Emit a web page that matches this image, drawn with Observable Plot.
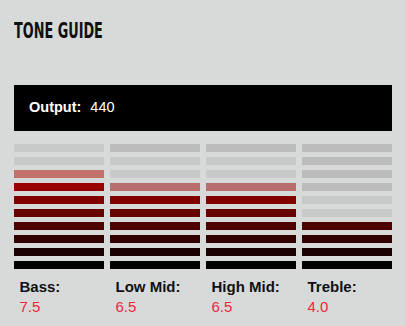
<!DOCTYPE html>
<html>
<head>
<meta charset="utf-8">
<script src="https://cdn.jsdelivr.net/npm/d3@7"></script>
<script src="https://cdn.jsdelivr.net/npm/@observablehq/plot@0.6"></script>
<style>
  html, body { margin: 0; padding: 0; background: #d7dad9; width: 405px; height: 326px; overflow: hidden; }
  #title { position: absolute; left: 14px; top: 21px; font-family: "Liberation Sans Narrow", "DejaVu Sans Condensed", sans-serif; font-weight: bold; font-size: 21px; line-height: 21px; color: #111; white-space: nowrap; transform: scaleX(0.68); transform-origin: 0 0; }
  #out { position: absolute; left: 14px; top: 85px; width: 378px; height: 46px; background: #000; }
  #outtext { position: absolute; left: 15px; top: 15px; font-family: "Liberation Sans", Arial, sans-serif; font-size: 14.5px; line-height: 14.5px; color: #fff; white-space: nowrap; }
  #outtext b { margin-right: 9px; }
  #chart { position: absolute; left: 0; top: 140px; }
</style>
</head>
<body>
<div id="title"></div>
<div id="out"><div id="outtext"></div></div>
<div id="chart"></div>
<script>
// ---- data ----
const titleText = "TONE GUIDE";
const outputLabel = "Output:";
const outputValue = 440;
const bands = ["Bass", "Low Mid", "High Mid", "Treble"];
const bandLevels = [7.5, 6.5, 6.5, 4.0];
const segments = [1, 2, 3, 4, 5, 6, 7, 8, 9, 10];
// number of top (unlit) segments drawn in the darker grey, per band
const dimTop = [0, 1, 1, 4];

// ---- styles ----
const litColors = {1: "#000000", 2: "#1a0000", 3: "#330000", 4: "#4c0000", 5: "#660000", 6: "#800000", 7: "#990000", 8: "#b30000", 9: "#cc0000", 10: "#e60000"};
const halfColors = {7: "#b86e6c", 8: "#c2716d"};
const offLight = "#c8cac9";
const offDark = "#bbbcbb";

document.getElementById("title").textContent = titleText;
document.getElementById("outtext").innerHTML = "<b></b><span></span>";
document.querySelector("#outtext b").textContent = outputLabel;
document.querySelector("#outtext span").textContent = outputValue;

const cells = [];
bands.forEach((b, i) => {
  const v = bandLevels[i];
  segments.forEach(l => {
    let fill;
    if (l <= v) fill = litColors[l];
    else if (l - 1 < v) fill = halfColors[l] || litColors[l];
    else fill = (l > segments.length - dimTop[i]) ? offDark : offLight;
    cells.push({band: b, level: l, fill});
  });
});

const chart = Plot.plot({
  width: 405,
  height: 186,
  marginTop: 4,
  marginBottom: 52,
  marginLeft: 14,
  marginRight: 7,
  style: {background: "transparent", fontFamily: "'Liberation Sans', Arial, sans-serif", overflow: "visible"},
  x: {type: "band", domain: bands, padding: 0, round: false, axis: null},
  y: {type: "band", domain: segments.slice().reverse(), padding: 0, round: false, axis: null},
  color: {type: "identity"},
  marks: [
    Plot.cell(cells, {x: "band", y: "level", fill: "fill", insetTop: 0, insetLeft: 0, insetRight: 6, insetBottom: 5}),
    Plot.text(bands, {x: d => d, text: d => d + ":", frameAnchor: "bottom", lineAnchor: "bottom", textAnchor: "start", dx: -43, dy: 17, fontWeight: "bold", fontSize: 15, fill: "#111"}),
    Plot.text(bands, {x: d => d, text: (d, i) => bandLevels[i].toFixed(1), frameAnchor: "bottom", lineAnchor: "bottom", textAnchor: "start", dx: -43, dy: 37, fontSize: 15, fill: "#f0283c"})
  ]
});
document.getElementById("chart").appendChild(chart);
</script>
</body>
</html>
